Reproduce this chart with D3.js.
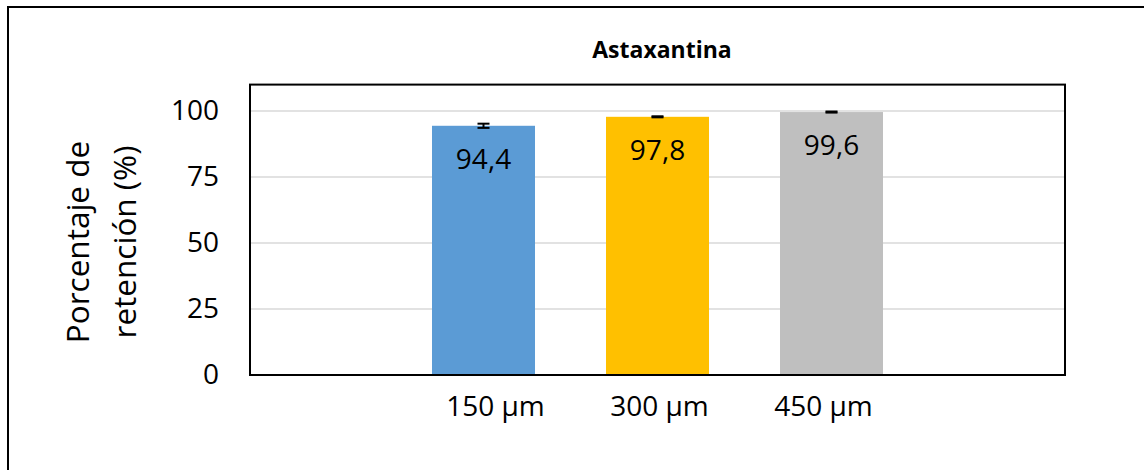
<!DOCTYPE html>
<html>
<head>
<meta charset="utf-8">
<script src="https://cdn.jsdelivr.net/npm/d3@7"></script>
<style>
  html, body { margin: 0; padding: 0; background: #ffffff; }
  svg { display: block; }
  text { font-family: "Open Sans", "Liberation Sans", sans-serif; fill: #000; }
</style>
</head>
<body>
<svg id="chart" width="1144" height="470"></svg>
<script>
// Retention of astaxanthin by particle size
const title = "Astaxantina";
const categories = ["150 µm", "300 µm", "450 µm"];
const retention = [94.4, 97.8, 99.6];
const errors = [0.8, 0.2, 0.2];
const labels = ["94,4", "97,8", "99,6"];
const yTicks = [0, 25, 50, 75, 100];
const colors = ["#5b9bd5", "#ffc000", "#bfbfbf"];
const yTitleLines = ["Porcentaje de", "retención (%)"];

const W = 1144, H = 470;
const plot = { left: 250, right: 1065, bottom: 375 };

const svg = d3.select("#chart");

const y = d3.scaleLinear().domain([0, 110]).range([plot.bottom, 84.6]);
const plotTop = y(110);

const x = d3.scaleBand()
  .domain(categories)
  .range([396.5, 918.5])
  .paddingInner(0.408)
  .paddingOuter(0.204);

// category captions sit on their own point scale
const xLab = d3.scalePoint().domain(categories).range([495, 823]);

// outer chart frame
svg.append("rect")
  .attr("x", 8).attr("y", 7)
  .attr("width", W + 10).attr("height", H + 10)
  .attr("fill", "none").attr("stroke", "#000").attr("stroke-width", 2);

// gridlines
svg.append("g")
  .selectAll("line")
  .data(yTicks.filter(d => d > 0))
  .join("line")
  .attr("x1", plot.left).attr("x2", plot.right)
  .attr("y1", d => y(d)).attr("y2", d => y(d))
  .attr("stroke", "#d9d9d9").attr("stroke-width", 1.5);

// bars
svg.append("g")
  .selectAll("rect")
  .data(retention)
  .join("rect")
  .attr("x", (d, i) => x(categories[i]))
  .attr("width", x.bandwidth())
  .attr("y", d => y(d))
  .attr("height", d => y(0) - y(d))
  .attr("fill", (d, i) => colors[i]);

// error bars
const eb = svg.append("g").attr("stroke", "#000").attr("stroke-width", 2);
retention.forEach((v, i) => {
  const cx = x(categories[i]) + x.bandwidth() / 2;
  const hi = y(v + errors[i]), lo = y(v - errors[i]);
  eb.append("line").attr("x1", cx).attr("x2", cx).attr("y1", hi).attr("y2", lo);
  eb.append("line").attr("x1", cx - 6).attr("x2", cx + 6).attr("y1", hi).attr("y2", hi);
  eb.append("line").attr("x1", cx - 6).attr("x2", cx + 6).attr("y1", lo).attr("y2", lo);
});

// value labels inside the bar ends
svg.append("g")
  .selectAll("text")
  .data(retention)
  .join("text")
  .attr("x", (d, i) => x(categories[i]) + x.bandwidth() / 2)
  .attr("y", d => y(d) + 43)
  .attr("text-anchor", "middle")
  .style("font-size", "28px")
  .text((d, i) => labels[i]);

// plot area frame
svg.append("rect")
  .attr("x", plot.left).attr("y", plotTop)
  .attr("width", plot.right - plot.left).attr("height", plot.bottom - plotTop)
  .attr("fill", "none").attr("stroke", "#000").attr("stroke-width", 2);

// y axis
const yAxis = svg.append("g")
  .attr("transform", `translate(${plot.left},0)`)
  .call(d3.axisLeft(y).tickValues(yTicks).tickSize(0).tickPadding(31));
yAxis.select(".domain").remove();
yAxis.selectAll("text")
  .style("font-size", "28px")
  .style("font-family", "'Open Sans', 'Liberation Sans', sans-serif")
  .attr("fill", "#000");

// x axis captions
const xAxis = svg.append("g")
  .attr("transform", `translate(0,${plot.bottom})`)
  .call(d3.axisBottom(xLab).tickSize(0).tickPadding(21));
xAxis.select(".domain").remove();
xAxis.selectAll("text")
  .style("font-size", "28px")
  .style("font-family", "'Open Sans', 'Liberation Sans', sans-serif")
  .attr("fill", "#000");

// title
svg.append("text")
  .attr("x", 662).attr("y", 58)
  .attr("text-anchor", "middle")
  .style("font-size", "23px")
  .style("font-weight", "bold")
  .text(title);

// y axis title, two lines
const yt = svg.append("text")
  .attr("transform", "translate(0,242) rotate(-90)")
  .attr("text-anchor", "middle")
  .style("font-size", "31.5px");
yTitleLines.forEach((t, i) => {
  yt.append("tspan").attr("x", 0).attr("y", 89 + i * 47).text(t);
});
</script>
</body>
</html>
